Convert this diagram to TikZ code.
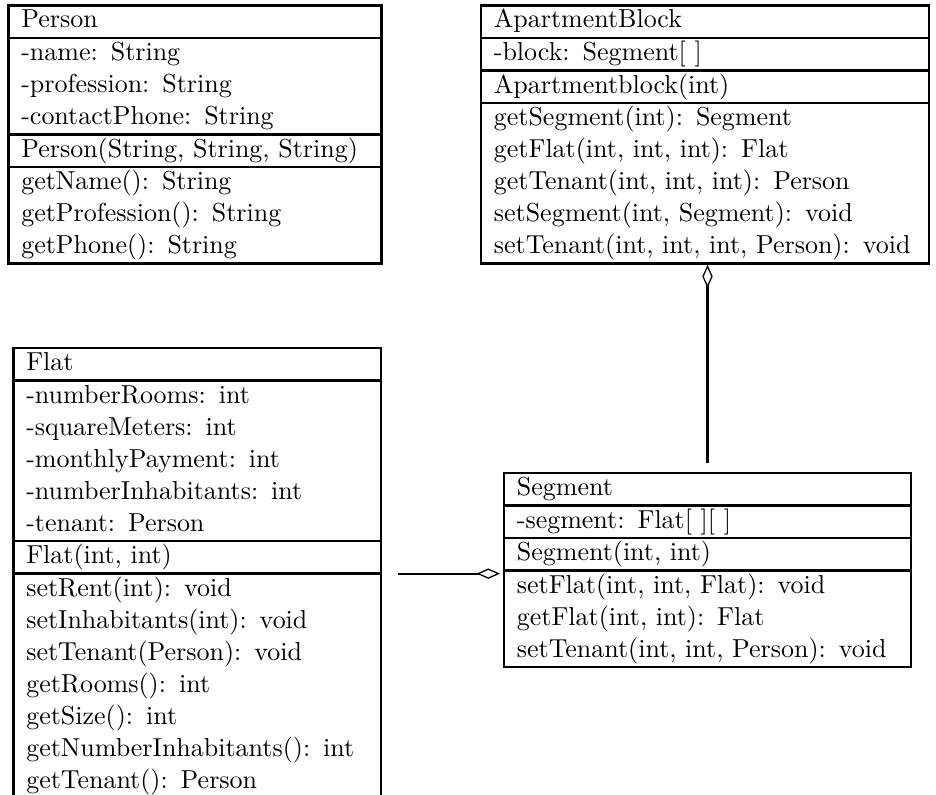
\documentclass[tikz,border=0pt]{standalone}
\usepackage{tikz}
\usetikzlibrary{arrows.meta, shapes.multipart, positioning}

\tikzset{
    umlclass/.style={rectangle split, rectangle split parts=4, draw, line width=1pt,
        rectangle split part align={left}, align=left, anchor=north west,
        inner xsep=5pt, inner ysep=-0.38pt, font=\fontsize{10}{12.3}\selectfont},
    aggregation/.style={-{Diamond[open, length=9pt, width=4pt, line width=0.5pt]}, line width=0.8pt}
}

\begin{document}
\begin{tikzpicture}
                    \useasboundingbox (0, 0) rectangle (12.66, -10.74);

                    % classes
                    \node[umlclass, text width=133.6pt] (person) at (0.095, -0.054)
                    {\strut Person
                     \nodepart{two}\strut -name: String\\ -profession: String\\ -contactPhone: String\strut
                     \nodepart{three}\strut Person(String, String, String)
                     \nodepart{four}\strut getName(): String\\ getProfession(): String\\ getPhone(): String\strut};

                    \node[umlclass, text width=162.5pt] (block) at (6.487, -0.054)
                    {\strut ApartmentBlock
                     \nodepart{two}\strut -block: Segment[ ]
                     \nodepart{three}\strut Apartmentblock(int)
                     \nodepart{four}\strut getSegment(int): Segment\\ getFlat(int, int, int): Flat\\
                     getTenant(int, int, int): Person\\ setSegment(int, Segment): void\\
                     setTenant(int, int, int, Person): void\strut};

                    \node[umlclass, text width=131.5pt] (flat) at (0.162, -4.690)
                    {\strut Flat
                     \nodepart{two}\strut -numberRooms: int\\ -squareMeters: int\\ -monthlyPayment: int\\
                     -numberInhabitants: int\\ -tenant: Person\strut
                     \nodepart{three}\strut Flat(int, int)
                     \nodepart{four}\strut setRent(int): void\\ setInhabitants(int): void\\
                     setTenant(Person): void\\ getRooms(): int\\ getSize(): int\\
                     getNumberInhabitants(): int\\ getTenant(): Person\strut};

                    \node[umlclass, text width=146.7pt] (segment) at (6.798, -6.379)
                    {\strut Segment
                     \nodepart{two}\strut -segment: Flat[ ][ ]
                     \nodepart{three}\strut Segment(int, int)
                     \nodepart{four}\strut setFlat(int, int, Flat): void\\ getFlat(int, int): Flat\\
                     setTenant(int, int, Person): void\strut};

                    % aggregations
                    \draw[aggregation, shorten <=3.5pt] (segment.north) -- (segment.north |- block.south);
                    \draw[aggregation, shorten <=6pt, shorten >=1pt] (flat.three split east) -- (flat.three split east -| segment.west);
                \end{tikzpicture}
\end{document}
